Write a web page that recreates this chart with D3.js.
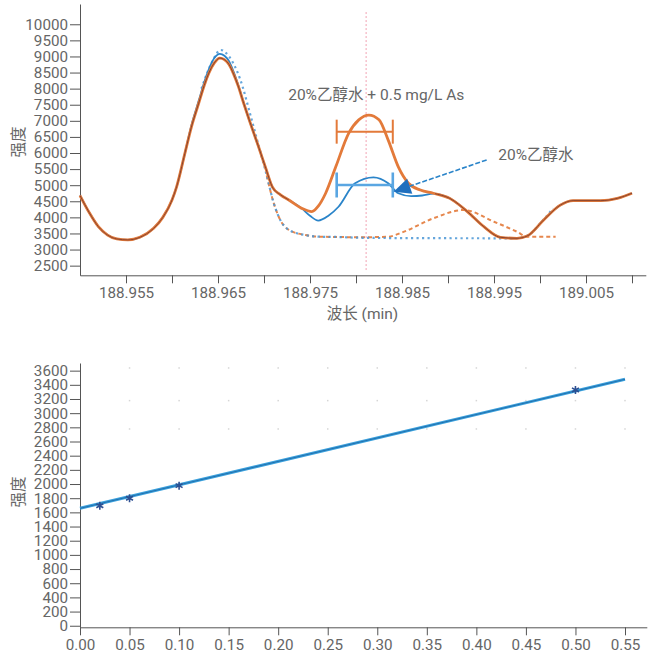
<!DOCTYPE html>
<html><head><meta charset="utf-8">
<script src="https://cdn.jsdelivr.net/npm/d3@7"></script>
<style>
html,body{margin:0;padding:0;background:#fff;}
text{font-family:Roboto,"Noto Sans CJK SC",sans-serif;}
</style></head>
<body><svg id="c" width="658" height="663"></svg>
<script>
// ---------- top chart data ----------
const sampleX = [188.9500,188.9510,188.9520,188.9530,188.9540,188.9552,188.9565,188.9580,188.9590,188.9600,188.9605,188.9614,188.9621,188.9629,188.9635,188.9640,188.9646,188.9652,188.9657,188.9662,188.9667,188.9672,188.9678,188.9685,188.9694,188.9702,188.9709,188.9718,188.9727,188.9741,188.9752,188.9759,188.9767,188.9778,188.9792,188.9803,188.9814,188.9825,188.9835,188.9846,188.9857,188.9870,188.9884,188.9902,188.9921,188.9939,188.9957,188.9975,188.9986,189.0004,189.0022,189.0036,189.0066,189.0084,189.0100];
const sampleY = [4680,4150,3710,3450,3330,3300,3380,3660,4000,4540,4950,5990,6800,7545,8100,8480,8800,8950,8900,8750,8450,8080,7540,6940,6200,5520,4950,4700,4540,4280,4180,4350,4750,5570,6610,7030,7180,7030,6400,5570,5060,4850,4750,4590,4180,3710,3380,3350,3420,3920,4380,4520,4520,4590,4750];

const blankX = [188.9500,188.9510,188.9520,188.9530,188.9540,188.9552,188.9565,188.9580,188.9590,188.9600,188.9605,188.9614,188.9621,188.9629,188.9635,188.9640,188.9646,188.9652,188.9657,188.9662,188.9667,188.9672,188.9678,188.9685,188.9694,188.9702,188.9709,188.9718,188.9727,188.9741,188.9750,188.9759,188.9770,188.9781,188.9799,188.9819,188.9835,188.9846,188.9860,188.9872,188.9884,188.9902,188.9921,188.9939,188.9957,188.9975,188.9986,189.0004,189.0022,189.0036,189.0066,189.0084,189.0100];
const blankY = [4680,4150,3710,3450,3330,3300,3380,3660,4000,4540,4950,5990,6850,7620,8200,8600,8950,9080,9020,8850,8520,8110,7550,6940,6200,5520,4950,4700,4540,4280,4050,3900,4050,4330,5060,5245,5060,4750,4660,4680,4740,4590,4180,3710,3380,3350,3420,3920,4380,4520,4520,4590,4750];

const blankFitX = [188.9632,188.9643,188.9653,188.9662,188.9674,188.9686,188.9694,188.9703,188.9710,188.9716,188.9727,188.9745,188.9760,188.9781,188.9800,188.9820,188.9971,188.9985,189.0003,189.0014];
const blankFitY = [8000,8800,9200,9000,8300,7100,6250,5300,4500,4020,3610,3450,3400,3390,3370,3360,3350,3420,3900,4280];

const sampleFitX = [188.9703,188.9710,188.9716,188.9727,188.9745,188.9760,188.9781,188.9800,188.9835,188.9850,188.9884,188.9917,188.9950,188.9975,188.9986,189.0017];
const sampleFitY = [5300,4500,4020,3610,3450,3400,3390,3380,3400,3530,3970,4230,3865,3554,3400,3400];

const topYTicks = [2500,3000,3500,4000,4500,5000,5500,6000,6500,7000,7500,8000,8500,9000,9500,10000];
const topXTicks = [188.955,188.960,188.965,188.970,188.975,188.980,188.985,188.990,188.995,189.000,189.005,189.010];
const topXLabels = ["188.955","","188.965","","188.975","","188.985","","188.995","","189.005",""];

const peakCenter = 188.9811;
const bracketX = [188.9779, 188.9840];
const sampleBracketY = 6663;
const blankBracketY = 5006;
const arrowFrom = [188.9942, 5783];
const arrowTo = [188.98409, 4798];
const sampleLabel = "20%乙醇水 + 0.5 mg/L As";
const blankLabel = "20%乙醇水";

// ---------- bottom chart data ----------
const calConc = [0.02, 0.05, 0.10, 0.50];
const calInt = [1694, 1799, 1977, 3328];
const fitConc = [0, 0.55];
const fitInt = [1657, 3478];
const botYTicks = [0,200,400,600,800,1000,1200,1400,1600,1800,2000,2200,2400,2600,2800,3000,3200,3400,3600];
const botXTicks = [0,0.05,0.10,0.15,0.20,0.25,0.30,0.35,0.40,0.45,0.50,0.55];
const gridDotY = [2777, 3177, 3638];

const svg = d3.select("#c");
const axisCol = "#555", txtCol = "#666";
const ORANGE = "#e37a3a", BLUE = "#2a84c9", CORE = "#7d3d2e";
const FS = "15.2px";

function styleAxis(g){
  g.selectAll("path,line").attr("stroke", axisCol).attr("stroke-width",1);
  g.selectAll("text").attr("fill", txtCol).attr("font-size",FS).attr("font-family",'Roboto,"Noto Sans CJK SC",sans-serif');
}

// ---------- top chart ----------
const x1 = d3.scaleLinear().domain([188.9500, 189.0115]).range([80, 645.8]);
const y1 = d3.scaleLinear().domain([2200, 10630]).range([275.3, 4]);

const gT = svg.append("g");
gT.append("g").attr("transform","translate(0,275.3)")
  .call(d3.axisBottom(x1).tickValues(topXTicks).tickFormat((d,i)=>topXLabels[i]).tickSize(8).tickPadding(4).tickSizeOuter(0))
  .call(styleAxis);
gT.append("g").attr("transform","translate(80,0)")
  .call(d3.axisLeft(y1).tickValues(topYTicks).tickFormat(d3.format("d")).tickSize(10).tickPadding(2).tickSizeOuter(0))
  .call(styleAxis);

gT.append("text").attr("x",362.5).attr("y",319).attr("text-anchor","middle")
  .attr("font-size","15.5px").attr("fill",txtCol).text("波长 (min)");
gT.append("text").attr("transform","translate(24,142) rotate(-90)").attr("text-anchor","middle")
  .attr("font-size","15.5px").attr("fill",txtCol).text("强度");

// vertical line at peak centre
gT.append("line").attr("x1",x1(peakCenter)).attr("x2",x1(peakCenter))
  .attr("y1",y1(10380)).attr("y2",y1(2300))
  .attr("stroke","#f2a3b3").attr("stroke-width",1).attr("stroke-dasharray","2,2");

const line1 = (xs,ys)=> d3.line().x((d,i)=>x1(xs[i])).y((d,i)=>y1(ys[i])).curve(d3.curveMonotoneX)(xs);

// fits
gT.append("path").attr("d", line1(sampleFitX, sampleFitY)).attr("fill","none")
  .attr("stroke",ORANGE).attr("stroke-width",2).attr("stroke-dasharray","4,3").attr("opacity",0.9);
gT.append("path").attr("d", line1(blankFitX, blankFitY)).attr("fill","none")
  .attr("stroke","#4a97d6").attr("stroke-width",2.2).attr("stroke-dasharray","2.2,3.3").attr("opacity",0.85);

// measured curves
gT.append("path").attr("d", line1(blankX, blankY)).attr("fill","none")
  .attr("stroke",BLUE).attr("stroke-width",1.8);
gT.append("path").attr("d", line1(sampleX, sampleY)).attr("fill","none")
  .attr("stroke",ORANGE).attr("stroke-width",2.8);

// dark core where both curves overlap
const clip = svg.append("defs").append("clipPath").attr("id","ovl");
clip.append("rect").attr("x",0).attr("y",0).attr("width",x1(188.9727)).attr("height",300);
clip.append("rect").attr("x",x1(188.9886)).attr("y",0).attr("width",658-x1(188.9886)).attr("height",300);
gT.append("path").attr("d", line1(sampleX, sampleY)).attr("fill","none")
  .attr("stroke",CORE).attr("stroke-width",0.9).attr("clip-path","url(#ovl)");

// brackets
function bracket(yv, col, w, cap){
  const g = gT.append("g").attr("stroke",col).attr("stroke-width",w).attr("fill","none");
  g.append("line").attr("x1",x1(bracketX[0])).attr("x2",x1(bracketX[1])).attr("y1",y1(yv)).attr("y2",y1(yv));
  bracketX.forEach(xv=>g.append("line").attr("x1",x1(xv)).attr("x2",x1(xv)).attr("y1",y1(yv)-cap).attr("y2",y1(yv)+cap));
}
bracket(sampleBracketY, ORANGE, 2, 12);
bracket(blankBracketY, "#5aa6e2", 2.6, 12.5);

// arrow
const ax0 = x1(arrowFrom[0]), ay0 = y1(arrowFrom[1]), ax1 = x1(arrowTo[0]), ay1 = y1(arrowTo[1]);
const ang = Math.atan2(ay1-ay0, ax1-ax0);
const L = 17, W = 8;
const bx = ax1 - L*Math.cos(ang), by = ay1 - L*Math.sin(ang);
gT.append("line").attr("x1",ax0).attr("y1",ay0).attr("x2",bx).attr("y2",by)
  .attr("stroke",BLUE).attr("stroke-width",1.6).attr("stroke-dasharray","5,2");
gT.append("path").attr("d",`M${ax1},${ay1}L${bx - W*Math.sin(ang)},${by + W*Math.cos(ang)}L${bx + W*Math.sin(ang)},${by - W*Math.cos(ang)}Z`)
  .attr("fill","#1f6fbe");

// labels
gT.append("text").attr("x",x1(188.9822)).attr("y",y1(7805)).attr("dy","0.35em").attr("text-anchor","middle")
  .attr("font-size","15.5px").attr("fill",txtCol).text(sampleLabel);
gT.append("text").attr("x",x1(188.99547)).attr("y",y1(5939)).attr("dy","0.35em")
  .attr("font-size","15.5px").attr("fill",txtCol).text(blankLabel);

// ---------- bottom chart ----------
const x2 = d3.scaleLinear().domain([0, 0.572]).range([80, 646.8]);
const y2 = d3.scaleLinear().domain([-22, 3708]).range([627.3, 363]);
const gB = svg.append("g");

// faint grid dots
botXTicks.slice(1).forEach(xv=>gridDotY.forEach(yv=>{
  gB.append("rect").attr("x",x2(xv)-0.75).attr("y",y2(yv)-0.75).attr("width",1.5).attr("height",1.5).attr("fill","#d6d6d6");
}));

gB.append("g").attr("transform","translate(0,627.3)")
  .call(d3.axisBottom(x2).tickValues(botXTicks).tickFormat(d3.format(".2f")).tickSize(8).tickPadding(4).tickSizeOuter(0))
  .call(styleAxis);
gB.append("g").attr("transform","translate(80,0)")
  .call(d3.axisLeft(y2).tickValues(botYTicks).tickFormat(d3.format("d")).tickSize(10).tickPadding(2).tickSizeOuter(0))
  .call(styleAxis);
gB.append("text").attr("transform","translate(24,492) rotate(-90)").attr("text-anchor","middle")
  .attr("font-size","15.5px").attr("fill",txtCol).text("强度");

const line2 = d3.line().x((d,i)=>x2(fitConc[i])).y((d,i)=>y2(fitInt[i]));
gB.append("path").attr("d",line2(fitConc)).attr("stroke","#3aa0dc").attr("stroke-width",3).attr("fill","none");
gB.append("path").attr("d",line2(fitConc)).attr("stroke","#1b64a2").attr("stroke-width",1).attr("fill","none").attr("opacity",0.8);

const sym = d3.symbol().type(d3.symbolAsterisk).size(45);
calConc.forEach((c,i)=>{
  gB.append("path").attr("d",sym()).attr("transform",`translate(${x2(c)},${y2(calInt[i])})`)
    .attr("fill","none").attr("stroke","#2c4f92").attr("stroke-width",1.6);
});
</script></body></html>
